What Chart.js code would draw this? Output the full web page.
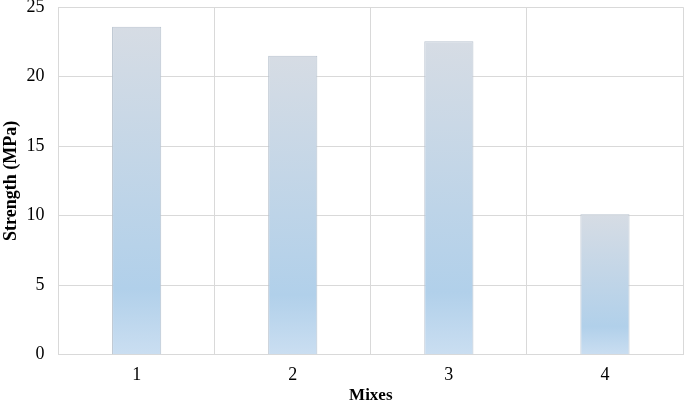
<!DOCTYPE html>
<html>
<head>
<meta charset="utf-8">
<script src="https://cdn.jsdelivr.net/npm/chart.js@4"></script>
<style>
  html, body { margin: 0; padding: 0; background: #fff; }
  #wrap { width: 685px; height: 405px; }
</style>
</head>
<body>
<div id="wrap"><canvas id="mixChart"></canvas></div>
<script>
const mixes = ["1", "2", "3", "4"];
const strength = [23.6, 21.5, 22.55, 10.1];
const yTicks = [0, 5, 10, 15, 20, 25];

// vertical fill per bar: greyish top, blue lower down, lighter at the base
function barGradient(context) {
  const chart = context.chart;
  const y = chart.scales.y;
  if (!y || context.dataIndex === undefined) return "#bcd3ea";
  const top = y.getPixelForValue(strength[context.dataIndex]);
  const bottom = y.getPixelForValue(0);
  if (!isFinite(top) || !isFinite(bottom) || top === bottom) return "#bcd3ea";
  const g = chart.ctx.createLinearGradient(0, top, 0, bottom);
  g.addColorStop(0, "#d6dce4");
  g.addColorStop(0.8, "#b1d0ea");
  g.addColorStop(1, "#cadef1");
  return g;
}

let ctx = document.getElementById("mixChart").getContext("2d");

new Chart(ctx, {
  type: "bar",
  data: {
    labels: mixes,
    datasets: [
      {
        data: strength,
        backgroundColor: barGradient,
        borderColor: "#b9c3cf",
        borderWidth: 1,
        barPercentage: 0.63,
        categoryPercentage: 0.5,
      },
    ],
  },
  options: {
    responsive: true,
    maintainAspectRatio: false,
    animation: false,
    layout: {
      autoPadding: false,
      padding: { top: 7, right: 2, bottom: 0, left: 0 },
    },
    plugins: {
      legend: { display: false },
      tooltip: { enabled: false },
    },
    scales: {
      x: {
        // invisible tick marks used as the gap under the axis
        grid: {
          color: "#d9d9d9",
          offset: true,
          drawTicks: true,
          tickLength: 10,
          tickColor: "transparent",
        },
        border: { color: "#d9d9d9" },
        ticks: {
          color: "#000",
          padding: 0,
          font: { family: "Liberation Serif", size: 18 },
        },
        title: {
          display: true,
          text: "Mixes",
          color: "#000",
          padding: 0,
          font: { family: "Liberation Serif", size: 17, weight: "bold", lineHeight: 1.1 },
        },
      },
      y: {
        min: 0,
        max: 25,
        afterBuildTicks: (axis) => {
          axis.ticks = yTicks.map((v) => ({ value: v }));
        },
        grid: {
          color: "#d9d9d9",
          drawTicks: true,
          tickLength: 14,
          tickColor: "transparent",
        },
        border: { color: "#d9d9d9" },
        ticks: {
          color: "#000",
          padding: 0,
          font: { family: "Liberation Serif", size: 18, lineHeight: 0.8 },
        },
        title: {
          display: true,
          text: "Strength (MPa)",
          color: "#000",
          padding: { top: 1, bottom: 4 },
          font: { family: "Liberation Serif", size: 18, weight: "bold" },
        },
      },
    },
  },
});
</script>
</body>
</html>
